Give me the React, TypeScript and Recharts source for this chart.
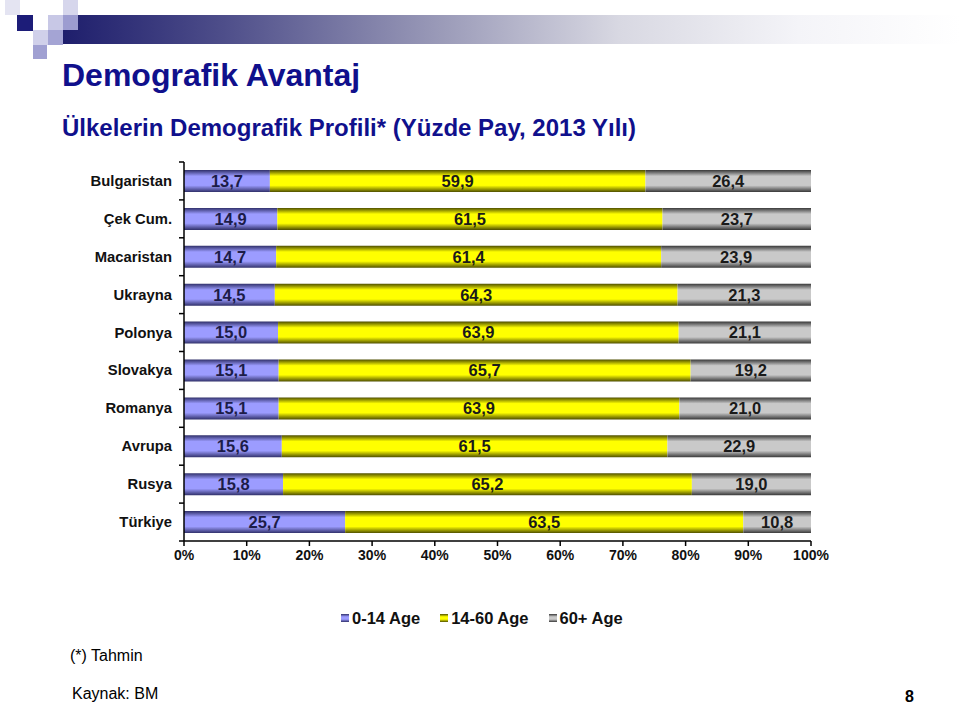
import React from "react";
import { BarChart, Bar, XAxis, YAxis, LabelList } from "recharts";

// --- Data ---
const COUNTRIES = [
  "Bulgaristan",
  "Çek Cum.",
  "Macaristan",
  "Ukrayna",
  "Polonya",
  "Slovakya",
  "Romanya",
  "Avrupa",
  "Rusya",
  "Türkiye",
];
const AGE_0_14 = [13.7, 14.9, 14.7, 14.5, 15.0, 15.1, 15.1, 15.6, 15.8, 25.7];
const AGE_14_60 = [59.9, 61.5, 61.4, 64.3, 63.9, 65.7, 63.9, 61.5, 65.2, 63.5];
const AGE_60_PLUS = [26.4, 23.7, 23.9, 21.3, 21.1, 19.2, 21.0, 22.9, 19.0, 10.8];
const X_TICKS = [0, 0.1, 0.2, 0.3, 0.4, 0.5, 0.6, 0.7, 0.8, 0.9, 1];

const SERIES = [
  { key: "young", name: "0-14 Age", light: "#9c9cff", dark: "#30306a", text: "#1c1c48" },
  { key: "working", name: "14-60 Age", light: "#ffff00", dark: "#4e4e00", text: "#1a1a1a" },
  { key: "old", name: "60+ Age", light: "#c9c9c9", dark: "#383838", text: "#1a1a1a" },
];

const data = COUNTRIES.map((country, i) => ({
  country,
  young: AGE_0_14[i],
  working: AGE_14_60[i],
  old: AGE_60_PLUS[i],
}));

const FONT = '"Liberation Sans", Arial, sans-serif';
const TITLE_BLUE = "#10108c";

const fmt = (v: number) => v.toFixed(1).replace(".", ",");

const CategoryTick = (props: any) => {
  const { x, y, payload, index } = props;
  const half = payload.offset || 19;
  const axisX = x + 12;
  return (
    <g>
      <text
        x={x}
        y={y}
        textAnchor="end"
        dominantBaseline="central"
        fontFamily={FONT}
        fontWeight="bold"
        fontSize={14.8}
        fill="#111"
      >
        {payload.value}
      </text>
      <line x1={axisX - 5} x2={axisX} y1={y - half} y2={y - half} stroke="#000" strokeWidth={1.5} />
      {index === COUNTRIES.length - 1 && (
        <line x1={axisX - 5} x2={axisX} y1={y + half} y2={y + half} stroke="#000" strokeWidth={1.5} />
      )}
    </g>
  );
};

const squares = [
  { x: 5, y: 0, s: 15, c: "#e4e4f2" },
  { x: 17, y: 15, s: 16, c: "#1c1c78" },
  { x: 48, y: 15, s: 15, c: "#c8c8e6" },
  { x: 63, y: 0, s: 15, c: "#d6d6ec" },
  { x: 63, y: 15, s: 15, c: "#9c9cd0" },
  { x: 33, y: 30, s: 15, c: "#d0d0ea" },
  { x: 48, y: 30, s: 15, c: "#a4a4d4" },
  { x: 33, y: 45, s: 14, c: "#a0a0d2" },
];

export default function App() {
  return (
    <div
      style={{
        position: "absolute",
        left: 0,
        top: 0,
        width: 960,
        height: 705,
        background: "#fff",
        overflow: "hidden",
        fontFamily: FONT,
      }}
    >
      {/* header band */}
      <div
        style={{
          position: "absolute",
          left: 62,
          top: 15,
          width: 898,
          height: 29,
          background:
            "linear-gradient(to right, #1e1e6c 0%, #4e4e8a 18%, #9a9ab8 42%, #d8d8e2 62%, #f4f4f8 82%, #ffffff 100%)",
        }}
      />
      {squares.map((q, i) => (
        <div
          key={i}
          style={{ position: "absolute", left: q.x, top: q.y, width: q.s, height: q.s, background: q.c }}
        />
      ))}

      <div
        style={{
          position: "absolute",
          left: 62,
          top: 56,
          fontSize: 32,
          lineHeight: "38px",
          fontWeight: "bold",
          color: TITLE_BLUE,
          whiteSpace: "nowrap",
        }}
      >
        Demografik Avantaj
      </div>
      <div
        style={{
          position: "absolute",
          left: 62,
          top: 114,
          fontSize: 24,
          lineHeight: "28px",
          fontWeight: "bold",
          color: TITLE_BLUE,
          whiteSpace: "nowrap",
        }}
      >
        Ülkelerin Demografik Profili* (Yüzde Pay, 2013 Yılı)
      </div>

      <div style={{ position: "absolute", left: 0, top: 150 }}>
        <BarChart
          width={960}
          height={421}
          data={data}
          layout="vertical"
          stackOffset="expand"
          barSize={22}
          margin={{ top: 12, right: 149, bottom: 0, left: 0 }}
        >
          <defs>
            {SERIES.map((s) => (
              <linearGradient key={s.key} id={`grad-${s.key}`} x1="0" y1="0" x2="0" y2="1">
                <stop offset="0%" stopColor={s.dark} />
                <stop offset="28%" stopColor={s.light} />
                <stop offset="70%" stopColor={s.light} />
                <stop offset="100%" stopColor={s.dark} />
              </linearGradient>
            ))}
          </defs>
          <XAxis
            type="number"
            domain={[0, 1]}
            ticks={X_TICKS}
            tickFormatter={(v: number) => `${Math.round(v * 100)}%`}
            height={30}
            tickSize={5}
            tickMargin={4}
            axisLine={{ stroke: "#000", strokeWidth: 1.5 }}
            tickLine={{ stroke: "#000", strokeWidth: 1.5 }}
            tick={{ fontFamily: FONT, fontWeight: "bold", fontSize: 14, fill: "#111" }}
            interval={0}
          />
          <YAxis
            type="category"
            dataKey="country"
            width={184}
            tickSize={4}
            tickMargin={8}
            tickLine={false}
            axisLine={{ stroke: "#000", strokeWidth: 1.5 }}
            tick={<CategoryTick />}
            interval={0}
          />
          {SERIES.map((s) => (
            <Bar
              key={s.key}
              dataKey={s.key}
              name={s.name}
              stackId="a"
              fill={`url(#grad-${s.key})`}
              isAnimationActive={false}
            >
              <LabelList
                dataKey={s.key}
                position="center"
                formatter={(v: any) => fmt(Number(v))}
                style={{ fontFamily: FONT, fontWeight: "bold", fontSize: 16.5, fill: s.text }}
              />
            </Bar>
          ))}
        </BarChart>
      </div>

      {/* legend */}
      <div
        style={{
          position: "absolute",
          left: 341,
          top: 608,
          display: "flex",
          gap: 20,
          fontSize: 16.5,
          lineHeight: "20px",
          fontWeight: "bold",
          color: "#111",
          whiteSpace: "nowrap",
        }}
      >
        {SERIES.map((s) => (
          <div key={s.key} style={{ display: "flex", alignItems: "center", gap: 3 }}>
            <span
              style={{
                display: "inline-block",
                width: 8,
                height: 8,
                background: `linear-gradient(to bottom, ${s.dark}, ${s.light} 35%, ${s.light} 65%, ${s.dark})`,
              }}
            />
            <span>{s.name}</span>
          </div>
        ))}
      </div>

      <div style={{ position: "absolute", left: 70, top: 647, fontSize: 16, lineHeight: "18px", color: "#000" }}>
        (*) Tahmin
      </div>
      <div style={{ position: "absolute", left: 72, top: 685, fontSize: 16, lineHeight: "18px", color: "#000" }}>
        Kaynak: BM
      </div>
      <div
        style={{
          position: "absolute",
          left: 905,
          top: 689,
          fontSize: 16,
          lineHeight: "16px",
          fontWeight: "bold",
          color: "#000",
        }}
      >
        8
      </div>
    </div>
  );
}
